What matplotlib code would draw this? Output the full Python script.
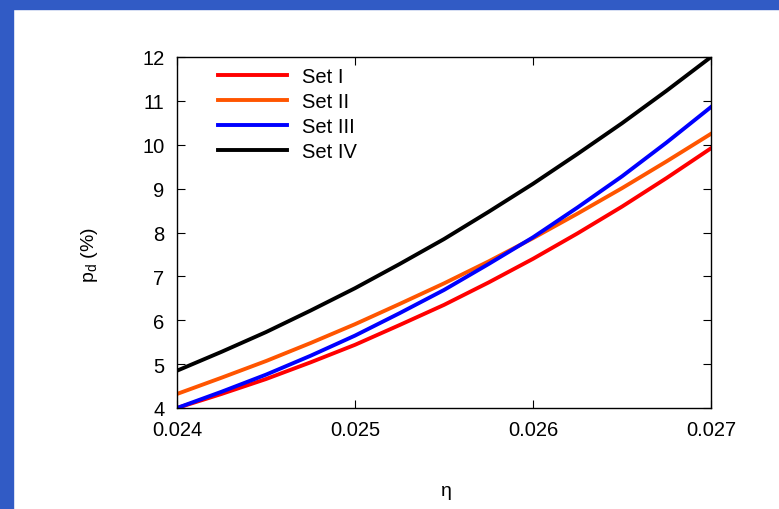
import matplotlib
matplotlib.use("Agg")
import matplotlib.pyplot as plt
from matplotlib.patches import Rectangle

plt.rcParams["font.family"] = ["Liberation Sans", "DejaVu Sans"]

# detection probability vs eta for the four parameter sets
eta = [0.024, 0.02425, 0.0245, 0.02475, 0.025, 0.02525, 0.0255,
       0.02575, 0.026, 0.02625, 0.0265, 0.02675, 0.027]
set_i = [4.00, 4.32, 4.66, 5.04, 5.44, 5.89, 6.35, 6.86, 7.40, 7.98, 8.59, 9.24, 9.92]
set_ii = [4.32, 4.69, 5.07, 5.48, 5.91, 6.37, 6.84, 7.34, 7.87, 8.43, 9.01, 9.62, 10.25]
set_iii = [4.00, 4.37, 4.76, 5.19, 5.65, 6.16, 6.69, 7.28, 7.89, 8.57, 9.28, 10.05, 10.86]
set_iv = [4.85, 5.28, 5.73, 6.22, 6.73, 7.28, 7.85, 8.47, 9.11, 9.79, 10.49, 11.23, 12.00]

labels = ["Set I", "Set II", "Set III", "Set IV"]
colors = ["#ff0000", "#ff5500", "#0000ff", "#000000"]
xticks = [0.024, 0.025, 0.026, 0.027]
xticklabels = ["0.024", "0.025", "0.026", "0.027"]
yticks = [4, 5, 6, 7, 8, 9, 10, 11, 12]

fig = plt.figure(figsize=(7.79, 5.10), dpi=100)
fig.patch.set_facecolor("white")

# blue frame along the top and left edges
frame = "#315bc5"
fig.patches.append(Rectangle((0, 1 - 10 / 510), 1, 10 / 510,
                             transform=fig.transFigure, color=frame, zorder=0))
fig.patches.append(Rectangle((0, 0), 13 / 779, 1,
                             transform=fig.transFigure, color=frame, zorder=0))

ax = fig.add_axes([177 / 779, 1 - 409 / 510, (711 - 177) / 779, (409 - 58) / 510])

for ys, lab, c in zip([set_i, set_ii, set_iii, set_iv], labels, colors):
    ax.plot(eta, ys, color=c, lw=2.8, label=lab, solid_joinstyle="round")

ax.set_xlim(0.024, 0.027)
ax.set_ylim(4, 12)
ax.set_xticks(xticks)
ax.set_xticklabels(xticklabels)
ax.set_yticks(yticks)
ax.tick_params(direction="in", length=6, width=0.8, top=True, right=True,
               labelsize=14.5, pad=9, colors="black")
for s in ax.spines.values():
    s.set_linewidth(1.0)

fig.text(446 / 779, 1 - 492 / 510, "η", ha="center", va="center", fontsize=14)
fig.text(90 / 779, 1 - 255 / 510, r"p$_\mathregular{d}$ (%)", ha="center", va="center",
         rotation=90, fontsize=14)

ax.legend(loc="upper left", frameon=False, fontsize=14.5, handlelength=3.4,
          handletextpad=0.75, labelspacing=0.3, borderaxespad=0.1,
          bbox_to_anchor=(0.058, 1.0))

fig.savefig("out.png", dpi=100)
